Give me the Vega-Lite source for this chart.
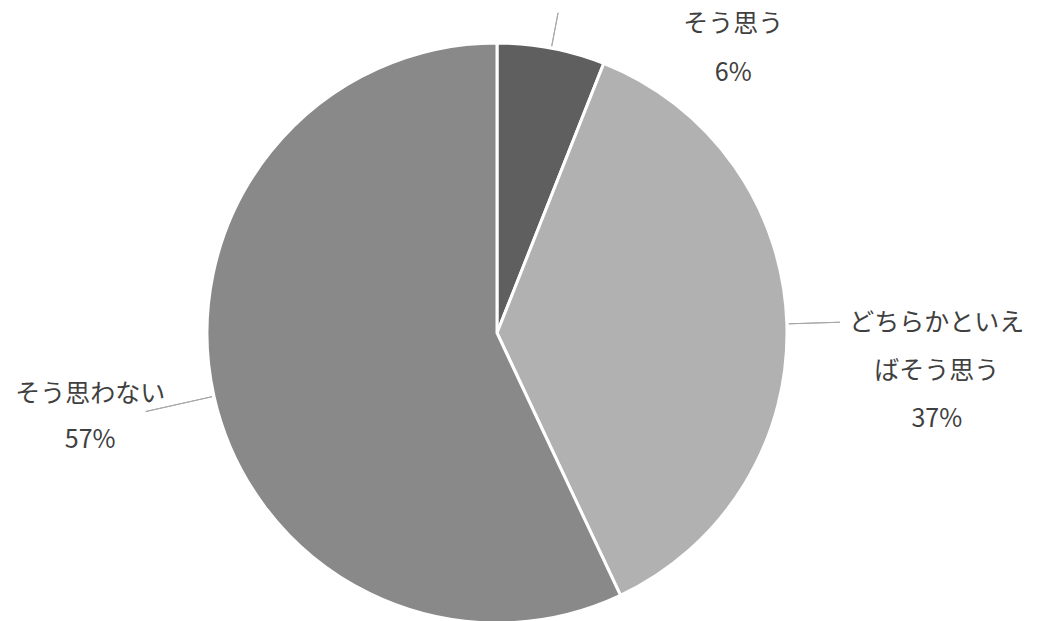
{
  "$schema": "https://vega.github.io/schema/vega-lite/v6.json",
  "width": 994,
  "height": 576,
  "padding": {"left": 0, "top": 45, "right": 46, "bottom": 0},
  "autosize": {"type": "none"},
  "background": "white",
  "config": {"view": {"stroke": null}, "font": "Noto Sans CJK JP"},
  "data": {
    "values": [
      {"order": 1, "category": "そう思う", "label": ["そう思う", "6%"], "value": 6},
      {"order": 2, "category": "どちらかといえばそう思う", "label": ["どちらかといえ", "ばそう思う", "37%"], "value": 37},
      {"order": 3, "category": "そう思わない", "label": ["そう思わない", "57%"], "value": 57}
    ]
  },
  "transform": [
    {"stack": "value", "groupby": [], "sort": [{"field": "order", "order": "ascending"}], "as": ["v0", "v1"]},
    {"calculate": "(datum.v0 + datum.v1) / 2", "as": "mid"}
  ],
  "layer": [
    {
      "mark": {"type": "arc", "outerRadius": 290, "stroke": "white", "strokeWidth": 3},
      "encoding": {
        "theta": {"field": "v0", "type": "quantitative", "scale": {"domain": [0, 100]}},
        "theta2": {"field": "v1"},
        "color": {
          "field": "category",
          "type": "nominal",
          "scale": {"domain": ["そう思う", "どちらかといえばそう思う", "そう思わない"], "range": ["#5f5f5f", "#b1b1b1", "#898989"]},
          "legend": null
        }
      }
    },
    {
      "transform": [{"filter": "datum.order == 1"}],
      "layer": [
        {
          "mark": {"type": "arc", "innerRadius": 292, "outerRadius": 326, "fill": null, "stroke": "#a6a6a6", "strokeWidth": 1},
          "encoding": {"theta": {"field": "mid", "type": "quantitative"}, "theta2": {"field": "mid"}}
        },
        {
          "mark": {"type": "text", "radius": 300, "dx": 180, "dy": -14, "fontSize": 25, "lineHeight": 49, "color": "#404040", "align": "center", "baseline": "middle"},
          "encoding": {"theta": {"field": "mid", "type": "quantitative"}, "text": {"field": "label"}}
        }
      ]
    },
    {
      "transform": [{"filter": "datum.order == 2"}],
      "layer": [
        {
          "mark": {"type": "arc", "innerRadius": 292, "outerRadius": 343, "fill": null, "stroke": "#a6a6a6", "strokeWidth": 1},
          "encoding": {"theta": {"field": "mid", "type": "quantitative"}, "theta2": {"field": "mid"}}
        },
        {
          "mark": {"type": "text", "radius": 300, "dx": 140, "dy": -1, "fontSize": 25, "lineHeight": 48, "color": "#404040", "align": "center", "baseline": "middle"},
          "encoding": {"theta": {"field": "mid", "type": "quantitative"}, "text": {"field": "label"}}
        }
      ]
    },
    {
      "transform": [{"filter": "datum.order == 3"}],
      "layer": [
        {
          "mark": {"type": "arc", "innerRadius": 292, "outerRadius": 360, "fill": null, "stroke": "#a6a6a6", "strokeWidth": 1},
          "encoding": {"theta": {"field": "mid", "type": "quantitative"}, "theta2": {"field": "mid"}}
        },
        {
          "mark": {"type": "text", "radius": 300, "dx": -114, "dy": -4, "fontSize": 25, "lineHeight": 46, "color": "#404040", "align": "center", "baseline": "middle"},
          "encoding": {"theta": {"field": "mid", "type": "quantitative"}, "text": {"field": "label"}}
        }
      ]
    }
  ]
}
